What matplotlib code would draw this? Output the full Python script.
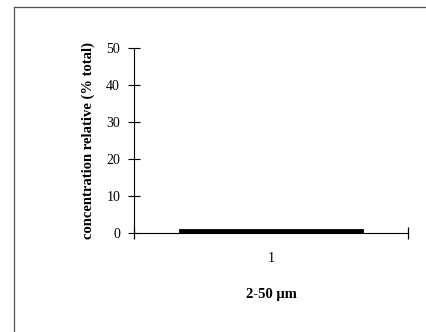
import matplotlib
matplotlib.use("Agg")
import matplotlib.pyplot as plt
from matplotlib.lines import Line2D

categories = ["1"]
values = [1.0]
yticks = [0, 10, 20, 30, 40, 50]
ylabel = "concentration relative (% total)"
xlabel = "2-50 µm"

plt.rcParams["font.family"] = ["Liberation Serif", "DejaVu Serif"]

fig = plt.figure(figsize=(4.26, 3.32), dpi=100)
ax = fig.add_axes([134 / 426, 1 - 233 / 332, 274 / 426, 185 / 332])

x = list(range(1, len(categories) + 1))
ax.bar(x, values, width=0.67, color="black", edgecolor="black", linewidth=0.6)

ax.set_xlim(0.5, len(categories) + 0.5)
ax.set_ylim(0, 50)
ax.set_yticks(yticks)
ax.set_yticklabels([str(t) for t in yticks], fontsize=10)
ax.set_xticks(x)
ax.set_xticklabels(categories, fontsize=10)
ax.set_xticks([0.5 + i for i in range(len(categories) + 1)], minor=True)

ax.tick_params(axis="y", direction="inout", length=8, width=0.8, pad=6)
ax.tick_params(axis="x", which="major", length=0, pad=14)
ax.tick_params(axis="x", which="minor", direction="inout", length=9, width=0.9)

for side in ("top", "right"):
    ax.spines[side].set_visible(False)
for side in ("left", "bottom"):
    ax.spines[side].set_linewidth(0.8)

ax.set_ylabel(ylabel, fontsize=10.5, fontweight="bold", labelpad=8)
ax.set_xlabel(xlabel, fontsize=10.5, fontweight="bold", labelpad=16)

# frame around the figure: top and left edges
fig.add_artist(Line2D([14 / 426, 14 / 426], [0, 1 - 7 / 332],
                      transform=fig.transFigure, color="#555555", linewidth=0.9))
fig.add_artist(Line2D([14 / 426, 1], [1 - 7 / 332, 1 - 7 / 332],
                      transform=fig.transFigure, color="#555555", linewidth=0.9))

fig.savefig("out.png", dpi=100)
